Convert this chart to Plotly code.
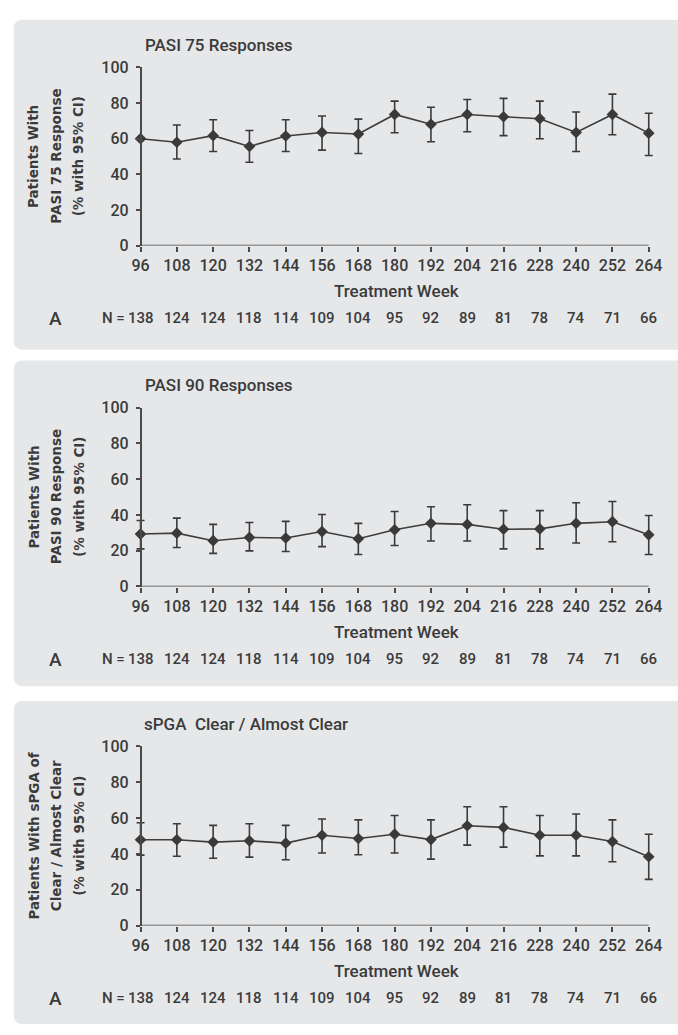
import plotly.graph_objects as go

# ---------------- data ----------------
weeks = [96, 108, 120, 132, 144, 156, 168, 180, 192, 204, 216, 228, 240, 252, 264]
n_patients = [138, 124, 124, 118, 114, 109, 104, 95, 92, 89, 81, 78, 74, 71, 66]

pasi75 = [60.0, 58.0, 61.7, 55.6, 61.5, 63.5, 62.6, 73.6, 68.1, 73.6, 72.3, 71.2, 63.5, 73.6, 63.1]
pasi75_lo = [None, 48.6, 52.8, 46.8, 52.8, 53.6, 51.7, 63.3, 58.3, 63.9, 61.7, 60.0, 52.8, 62.2, 50.6]
pasi75_hi = [None, 67.7, 70.6, 64.6, 70.6, 72.7, 71.0, 81.1, 77.6, 82.0, 82.6, 81.1, 75.0, 85.0, 74.3]

pasi90 = [29.3, 29.8, 25.6, 27.4, 27.1, 30.7, 26.7, 31.7, 35.3, 34.7, 32.0, 32.2, 35.3, 36.2, 28.9]
pasi90_lo = [21.0, 21.8, 18.5, 19.9, 19.6, 22.3, 17.9, 22.9, 25.4, 25.4, 21.0, 21.0, 24.3, 25.0, 17.9]
pasi90_hi = [36.9, 38.2, 34.7, 35.8, 36.4, 40.2, 35.3, 41.9, 44.6, 45.7, 42.4, 42.4, 46.8, 47.5, 39.7]

spga = [47.9, 47.9, 46.6, 47.3, 46.0, 50.4, 48.6, 51.0, 48.0, 55.7, 54.8, 50.4, 50.4, 46.9, 38.4]
spga_lo = [39.3, 38.7, 37.6, 38.2, 36.7, 40.5, 39.5, 40.5, 37.1, 44.9, 43.8, 38.9, 38.9, 35.6, 25.8]
spga_hi = [57.4, 56.8, 55.9, 56.8, 55.9, 59.5, 59.0, 61.4, 59.0, 66.3, 66.3, 61.4, 62.3, 59.0, 51.0]

panel_titles = ["PASI 75 Responses", "PASI 90 Responses", "sPGA  Clear / Almost Clear"]
ytitle_lines = [
    ["Patients With", "PASI 75 Response", "(% with 95% CI)"],
    ["Patients With", "PASI 90 Response", "(% with 95% CI)"],
    ["Patients With sPGA of", "Clear / Almost Clear", "(% with 95% CI)"],
]
panel_label = "A"
xaxis_title = "Treatment Week"
y_ticks = [0, 20, 40, 60, 80, 100]

series = [(pasi75, pasi75_lo, pasi75_hi), (pasi90, pasi90_lo, pasi90_hi), (spga, spga_lo, spga_hi)]

# ---------------- layout geometry (pixels) ----------------
W, H = 678, 1035
TXT = "#3b3b3b"
AX = "#4a4a4a"
BG = "#e6e7e9"
x_left_px, x_right_px = 139.6, 655.4        # pixel x of first / last week
wk0, wk1 = weeks[0], weeks[-1]
pad_wk = 2.0                                 # extra room so caps at the ends are not clipped
ppw = (x_right_px - x_left_px) / (wk1 - wk0)
dom_l_px = x_left_px - pad_wk * ppw
dom_r_px = x_right_px + pad_wk * ppw
# (y of 100, y of 0) per panel
y_px = [(59.5, 241.0), (406.0, 588.3), (751.2, 933.7)]
panel_box = [(11, 11, 347), (11, 358, 690), (11, 705, 1034)]
title_x_px = [142, 142, 141]

def px(x):
    return x / W

def py(y):
    return 1 - y / H

fig = go.Figure()
shapes = []
annotations = []

tick_font = dict(family="Roboto", size=16, color=TXT, weight=500)

for i, (vals, lo, hi) in enumerate(series):
    k = "" if i == 0 else str(i + 1)
    xa, ya = "x" + k, "y" + k
    err_plus = [None if h is None else round(h - v, 2) for v, h in zip(vals, hi)]
    err_minus = [None if l is None else round(v - l, 2) for v, l in zip(vals, lo)]
    fig.add_trace(go.Scatter(
        x=weeks, y=vals, mode="lines+markers",
        xaxis=xa, yaxis=ya,
        line=dict(color="#3d3d3d", width=1.6),
        marker=dict(symbol="diamond", size=9, color="#3a3a3a"),
        error_y=dict(type="data", symmetric=False, array=err_plus, arrayminus=err_minus,
                     color="#3a3a3a", thickness=1.6, width=4),
        cliponaxis=False, showlegend=False, hoverinfo="skip",
    ))
    ytop, ybot = y_px[i]
    fig.update_layout(**{
        "xaxis" + k: dict(
            domain=[px(dom_l_px), px(dom_r_px)], anchor=ya,
            range=[wk0 - pad_wk, wk1 + pad_wk], tickvals=weeks, ticktext=[str(w) for w in weeks],
            ticks="outside", ticklen=5, tickwidth=1.5, tickcolor=AX,
            showline=False, showgrid=False, zeroline=False, tickfont=tick_font,
        ),
        "yaxis" + k: dict(
            domain=[py(ybot), py(ytop)], anchor="free", position=px(x_left_px),
            range=[0, 100], tickvals=y_ticks,
            ticks="outside", ticklen=4, tickwidth=1.5, tickcolor=AX,
            showline=True, linecolor=AX, linewidth=1.5,
            showgrid=False, zeroline=False, tickfont=tick_font,
            ticklabelstandoff=4,
        ),
    })
    # x axis baseline from first to last week
    shapes.append(dict(type="line", xref=xa, yref=ya, x0=wk0, x1=wk1, y0=0, y1=0,
                       line=dict(color=AX, width=1.5), layer="above"))

    # panel background (rounded rectangle)
    x0, y0, y1 = panel_box[i]
    x1 = 700
    r = 9
    rx, ry = r / W, r / H
    X0, X1 = px(x0), px(x1)
    Y0, Y1 = py(y0), py(y1)
    path = (f"M {X0+rx},{Y0} L {X1},{Y0} L {X1},{Y1} L {X0+rx},{Y1} "
            f"Q {X0},{Y1} {X0},{Y1+ry} L {X0},{Y0-ry} Q {X0},{Y0} {X0+rx},{Y0} Z")
    shapes.append(dict(type="path", path=path, xref="paper", yref="paper",
                       fillcolor=BG, line=dict(width=0), layer="below"))

    # panel title
    annotations.append(dict(text=panel_titles[i], x=px(title_x_px[i]), y=py(ytop - 22.5),
                            xref="paper", yref="paper", xanchor="left", yanchor="middle",
                            showarrow=False, font=dict(family="Roboto", size=17, color=TXT, weight=500)))
    # x axis title
    annotations.append(dict(text=xaxis_title, x=px((x_left_px + x_right_px) / 2 + 2), y=py(ybot + 46),
                            xref="paper", yref="paper", xanchor="center", yanchor="middle",
                            showarrow=False, font=dict(family="Roboto", size=17, color=TXT, weight=500)))
    # panel letter
    annotations.append(dict(text=panel_label, x=px(53), y=py(ybot + 74),
                            xref="paper", yref="paper", xanchor="center", yanchor="middle",
                            showarrow=False, font=dict(family="Roboto", size=19, color=TXT, weight=500)))
    # N row
    annotations.append(dict(text="N =", x=px(125.5), y=py(ybot + 74),
                            xref="paper", yref="paper", xanchor="right", yanchor="middle",
                            showarrow=False, font=dict(family="Roboto", size=15, color=TXT, weight=500)))
    for w, n in zip(weeks, n_patients):
        annotations.append(dict(text=str(n), x=w, y=py(ybot + 74),
                                xref=xa, yref="paper", xanchor="center", yanchor="middle",
                                showarrow=False, font=dict(family="Roboto", size=15, color=TXT, weight=500)))
    # y axis title (three rotated lines)
    ymid = (ytop + ybot) / 2
    for j, (line_txt, xc) in enumerate(zip(ytitle_lines[i], [31, 54, 77])):
        annotations.append(dict(text=line_txt, x=px(xc), y=py(ymid),
                                xref="paper", yref="paper", xanchor="center", yanchor="middle",
                                textangle=-90, showarrow=False,
                                font=dict(family="DejaVu Sans", size=13.5, color=TXT, weight="bold")))

fig.update_layout(
    width=W, height=H, margin=dict(l=0, r=0, t=0, b=0),
    paper_bgcolor="white", plot_bgcolor="rgba(0,0,0,0)",
    shapes=shapes, annotations=annotations, showlegend=False,
)

fig.write_html("out.html")
